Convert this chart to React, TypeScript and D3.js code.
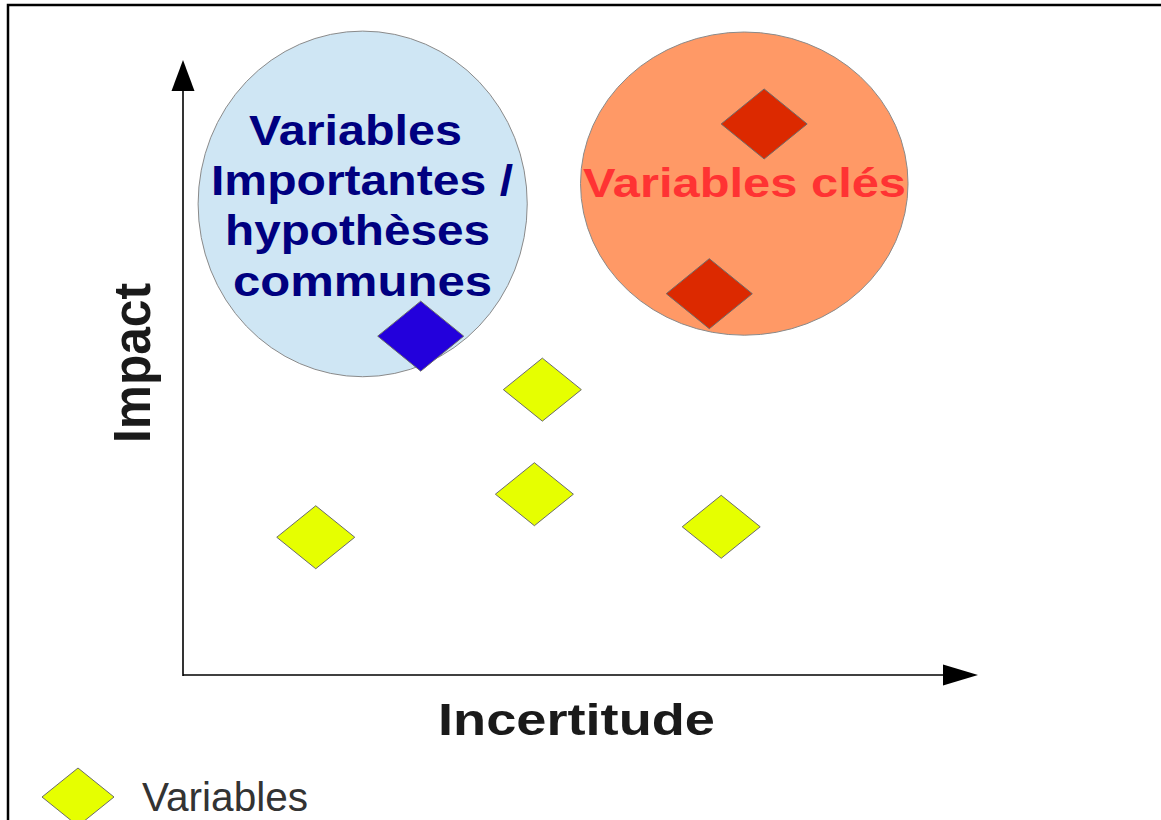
import React from "react";
import { scaleLinear } from "d3";

// values (axis units 0..10)
const pointX = [2.99, 4.52, 4.42, 1.67, 6.77, 7.31, 6.62];
const pointY = [5.51, 4.64, 2.94, 2.24, 2.41, 8.96, 6.2];
const pointKind = ["commune", "variable", "variable", "variable", "variable", "cle", "cle"];

const zoneNames = ["Variables Importantes / hypothèses communes", "Variables clés"];
const zoneX = [2.26, 7.06];
const zoneY = [7.66, 7.99];
const zoneRx = [2.07, 2.06];
const zoneRy = [2.81, 2.465];

const axisLabels = ["Incertitude", "Impact"];
const legendLabels = ["Variables"];

const width = 1161;
const height = 820;

const kindColor: Record<string, string> = {
  commune: "#2300dc",
  variable: "#e6ff00",
  cle: "#dc2900",
};

function diamond(cx: number, cy: number, hw: number, hh: number) {
  return `M${cx - hw},${cy}L${cx},${cy - hh}L${cx + hw},${cy}L${cx},${cy + hh}Z`;
}

export default function App() {
  const x0 = 183;
  const y0 = 675;
  const xScale = scaleLinear().domain([0, 10]).range([x0, 978]);
  const yScale = scaleLinear().domain([0, 10]).range([y0, 60]);
  const ux = xScale(1) - xScale(0);
  const uy = yScale(0) - yScale(1);

  return (
    <svg
      width={width}
      height={height}
      style={{ position: "absolute", left: 0, top: 0, background: "#fff" }}
    >
      {/* frame, cut off at right and bottom */}
      <rect x={8} y={5} width={1200} height={900} fill="none" stroke="#000" strokeWidth={2.5} />

      {/* zones */}
      <ellipse
        cx={xScale(zoneX[0])}
        cy={yScale(zoneY[0])}
        rx={zoneRx[0] * ux}
        ry={zoneRy[0] * uy}
        fill="#cfe6f4"
        stroke="#8a8a8a"
        strokeWidth={1}
      />
      <ellipse
        cx={xScale(zoneX[1])}
        cy={yScale(zoneY[1])}
        rx={zoneRx[1] * ux}
        ry={zoneRy[1] * uy}
        fill="#ff9966"
        stroke="#8a8a8a"
        strokeWidth={1}
      />

      {/* zone labels */}
      <g fontFamily="'Liberation Sans', Arial, sans-serif" fontWeight="bold" fontSize={42} fill="#000080">
        <text x={249} y={145} textLength={213} lengthAdjust="spacingAndGlyphs">Variables</text>
        <text x={211} y={195} textLength={302} lengthAdjust="spacingAndGlyphs">Importantes /</text>
        <text x={225} y={245} textLength={265} lengthAdjust="spacingAndGlyphs">hypothèses</text>
        <text x={233} y={296} textLength={259} lengthAdjust="spacingAndGlyphs">communes</text>
      </g>
      <text
        x={583}
        y={197}
        fontFamily="'Liberation Sans', Arial, sans-serif"
        fontWeight="bold"
        fontSize={41}
        fill="#ff3333"
        textLength={323}
        lengthAdjust="spacingAndGlyphs"
      >
        {zoneNames[1]}
      </text>

      {/* axes */}
      <line x1={x0} y1={y0 + 1} x2={x0} y2={90} stroke="#000" strokeWidth={1.6} />
      <path d={`M${x0},60L${x0 - 11.5},91L${x0 + 11.5},91Z`} fill="#000" />
      <line x1={x0} y1={y0} x2={944} y2={y0} stroke="#000" strokeWidth={1.6} />
      <path d={`M978,${y0}L943,${y0 - 10.5}L943,${y0 + 10.5}Z`} fill="#000" />

      {/* points */}
      {pointX.map((v, i) => {
        const big = pointKind[i] !== "variable";
        return (
          <path
            key={i}
            d={diamond(xScale(v), yScale(pointY[i]), big ? 43 : 39, big ? 35 : 31.5)}
            fill={kindColor[pointKind[i]]}
            stroke="#6b6b6b"
            strokeWidth={1}
          />
        );
      })}

      {/* axis titles */}
      <text
        x={438}
        y={735}
        fontFamily="'Liberation Sans', Arial, sans-serif"
        fontWeight="bold"
        fontSize={45}
        fill="#1a1a1a"
        textLength={277}
        lengthAdjust="spacingAndGlyphs"
      >
        {axisLabels[0]}
      </text>
      <text
        transform="translate(150,443) rotate(-90)"
        fontFamily="'Liberation Sans', Arial, sans-serif"
        fontWeight="bold"
        fontSize={51}
        fill="#1a1a1a"
        textLength={160}
        lengthAdjust="spacingAndGlyphs"
      >
        {axisLabels[1]}
      </text>

      {/* legend */}
      <path d={diamond(78, 797, 36, 29)} fill={kindColor.variable} stroke="#6b6b6b" strokeWidth={1} />
      <text
        x={142}
        y={811}
        fontFamily="'Liberation Sans', Arial, sans-serif"
        fontSize={40}
        fill="#333"
        textLength={166}
        lengthAdjust="spacingAndGlyphs"
      >
        {legendLabels[0]}
      </text>
    </svg>
  );
}
